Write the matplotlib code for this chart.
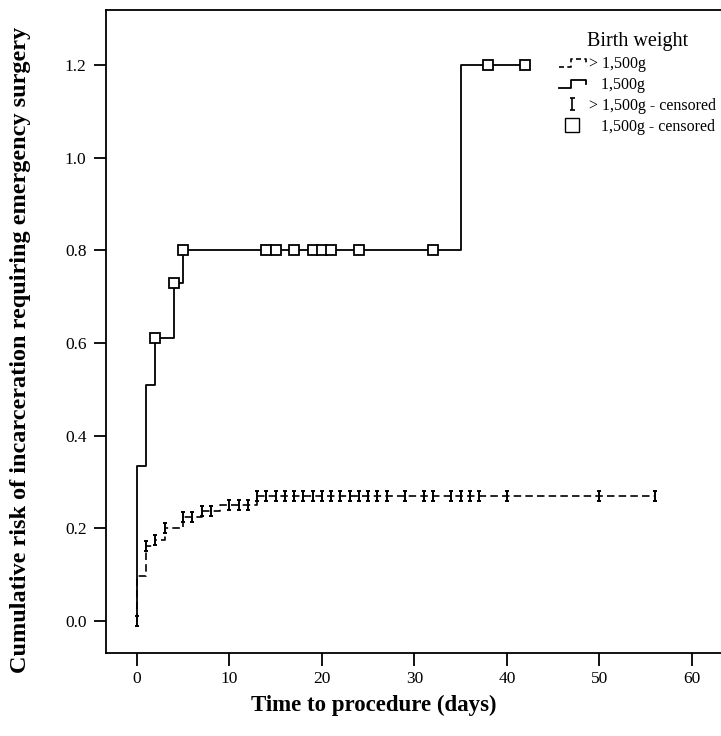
import numpy as np
import matplotlib
matplotlib.use("Agg")
import matplotlib.pyplot as plt
from matplotlib.path import Path
from matplotlib.lines import Line2D
from matplotlib.legend_handler import HandlerBase

plt.rcParams['font.family'] = ['Liberation Serif', 'DejaVu Serif']

# --- datos ---
# grupo <= 1,500g (linea continua, cuadrados = censurados)
low_t = [0, 0, 1, 2, 4, 5, 35, 42]
low_risk = [0.0, 0.335, 0.51, 0.61, 0.73, 0.80, 1.20, 1.20]
low_cens_t = [2, 4, 5, 14, 15, 17, 19, 20, 21, 24, 32, 38, 42]
low_cens_risk = [0.61, 0.73, 0.80, 0.80, 0.80, 0.80, 0.80, 0.80, 0.80, 0.80, 0.80, 1.20, 1.20]

# grupo > 1,500g (linea discontinua, marcas I = censurados)
high_t = [0, 0, 1, 2, 3, 5, 7, 9, 13, 56]
high_risk = [0.0, 0.097, 0.162, 0.176, 0.200, 0.224, 0.237, 0.250, 0.270, 0.270]
high_cens_t = [0, 1, 2, 3, 5, 6, 7, 8, 10, 11, 12, 13, 14, 15, 16, 17, 18, 19, 20,
               21, 22, 23, 24, 25, 26, 27, 29, 31, 32, 34, 35, 36, 37, 40, 50, 56]
high_cens_risk = [0.0, 0.162, 0.176, 0.200, 0.224, 0.224, 0.237, 0.237, 0.250, 0.250,
                  0.250] + [0.270] * 25

x_ticks = [0, 10, 20, 30, 40, 50, 60]
y_ticks = [0.0, 0.2, 0.4, 0.6, 0.8, 1.0, 1.2]

# marcador "I" con remates
cens_marker = Path([(-0.4, 1), (0.4, 1), (0, 1), (0, -1), (-0.4, -1), (0.4, -1)],
                   [Path.MOVETO, Path.LINETO, Path.MOVETO, Path.LINETO, Path.MOVETO, Path.LINETO])


class HandlerStep(HandlerBase):
    # dibuja un escalon en la leyenda
    def create_artists(self, legend, orig_handle, xdescent, ydescent, width, height,
                       fontsize, trans):
        w, h = width, height
        xs = np.array([0, 0.45 * w, 0.45 * w, w, w]) - xdescent
        ys = np.array([0.1 * h, 0.1 * h, 0.85 * h, 0.85 * h, 0.45 * h]) - ydescent
        line = Line2D(xs, ys, color=orig_handle.get_color(),
                      linestyle=orig_handle.get_linestyle(),
                      linewidth=orig_handle.get_linewidth())
        if orig_handle.get_linestyle() == '--':
            line.set_dashes((3, 2))
        line.set_transform(trans)
        return [line]


fig = plt.figure(figsize=(7.21, 7.36), dpi=100)
ax = fig.add_axes([106 / 721, 83 / 736, 615 / 721, 643 / 736])

high_line, = ax.step(high_t, high_risk, where='post', color='black', lw=1.2,
                     linestyle='--', dashes=(4.5, 2.5))
low_line, = ax.step(low_t, low_risk, where='post', color='black', lw=1.3)
high_cens, = ax.plot(high_cens_t, high_cens_risk, linestyle='none', marker=cens_marker,
                     markersize=6.5, markeredgewidth=1.4, color='black')
low_cens, = ax.plot(low_cens_t, low_cens_risk, linestyle='none', marker='s',
                    markersize=6.5, markerfacecolor='white', markeredgecolor='black',
                    markeredgewidth=1.3)

ax.set_xlim(-3.35, 63.14)
ax.set_ylim(-0.069, 1.319)
ax.set_xticks(x_ticks)
ax.set_yticks(y_ticks)
ax.set_yticklabels([f'{v:.1f}' for v in y_ticks])
ax.tick_params(direction='out', length=9, width=1.3, labelsize=12.5, pad=5)
ax.tick_params(axis='x', pad=4)
for s in ['left', 'bottom', 'top']:
    ax.spines[s].set_linewidth(1.3)
ax.spines['right'].set_visible(False)

ax.set_xlabel('Time to procedure (days)', fontsize=16.5, fontweight='bold')
ax.set_ylabel('Cumulative risk of incarceration requiring emergency surgery',
              fontsize=17.5, fontweight='bold')
ax.xaxis.set_label_coords(0.435, -0.065)
ax.yaxis.set_label_coords(-0.122, 0.471)

big_sq = Line2D([], [], linestyle='none', marker='s', markersize=10,
                markerfacecolor='white', markeredgecolor='black', markeredgewidth=1.0)
big_i = Line2D([], [], linestyle='none', marker=cens_marker, markersize=9,
               markeredgewidth=1.2, color='black')
leg = ax.legend([high_line, low_line, big_i, big_sq],
                ['> 1,500g', '   1,500g', '> 1,500g - censored', '   1,500g - censored'],
                handler_map={high_line: HandlerStep(), low_line: HandlerStep()},
                title='Birth weight', title_fontsize=14.5, fontsize=11.5,
                loc='upper right', bbox_to_anchor=(1.01, 0.983), frameon=False,
                handlelength=1.7, handletextpad=0.2, labelspacing=0.31,
                borderpad=0.2)

fig.savefig('out.png', dpi=100)
